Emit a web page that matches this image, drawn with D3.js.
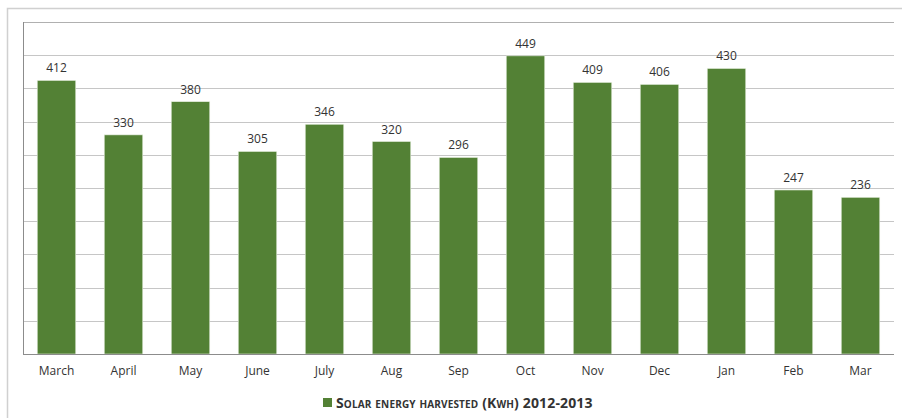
<!DOCTYPE html>
<html><head><meta charset="utf-8">
<script src="https://cdn.jsdelivr.net/npm/d3@7"></script>
<style>body{margin:0;background:#fff}svg{display:block}</style>
</head><body>
<svg id="c" width="902" height="418"></svg>
<script>
const categories = ["March","April","May","June","July","Aug","Sep","Oct","Nov","Dec","Jan","Feb","Mar"];
const values = [412,330,380,305,346,320,296,449,409,406,430,247,236];
const yTicks = [0,50,100,150,200,250,300,350,400,450,500];
const seriesName = "Solar energy harvested (Kwh) 2012-2013";

const svg = d3.select("#c");
const m = {left:23, right:8, top:22, bottom:64};
const W = 902, H = 418;
const font = "'Open Sans', 'Liberation Sans', sans-serif";

// outer frame
svg.append("rect").attr("x",7.5).attr("y",8.5).attr("width",W).attr("height",H)
  .attr("fill","none").attr("stroke","#d0d0d0").attr("stroke-width",1.5);

const x = d3.scaleBand().domain(categories).range([m.left, W-m.right]).paddingInner(0.425).paddingOuter(0.2125);
const y = d3.scaleLinear().domain([0,500]).range([H-m.bottom, m.top]);

// gridlines
svg.append("g").selectAll("line").data(yTicks.slice(1)).join("line")
  .attr("x1",m.left).attr("x2",W-m.right)
  .attr("y1",d=>Math.round(y(d))+0.5).attr("y2",d=>Math.round(y(d))+0.5)
  .attr("stroke",d=>d===500?"#b0b0b0":"#c6c6c6").attr("stroke-width",1);

// bars
svg.append("g").selectAll("rect").data(values).join("rect")
  .attr("x",(d,i)=>x(categories[i]))
  .attr("width",x.bandwidth())
  .attr("y",d=>y(d))
  .attr("height",d=>y(0)-y(d))
  .attr("fill","#538135")
  .attr("stroke","#e6efe0").attr("stroke-width",0.6);

// value labels
svg.append("g").selectAll("text").data(values).join("text")
  .attr("x",(d,i)=>x(categories[i])+x.bandwidth()/2)
  .attr("y",d=>y(d)-8)
  .attr("text-anchor","middle")
  .attr("font-family",font).attr("font-size",12).attr("fill","#333")
  .text(d=>d);

// axes lines
svg.append("line").attr("x1",m.left+0.5).attr("x2",m.left+0.5).attr("y1",m.top).attr("y2",y(0))
  .attr("stroke","#8c8c8c");
const xAxis = svg.append("g").attr("transform",`translate(0,${Math.round(y(0))+0.5})`)
  .call(d3.axisBottom(x).tickSize(0).tickPadding(12));
xAxis.select(".domain").attr("stroke","#8c8c8c").attr("d",`M${m.left},0H${W-m.right}`);
xAxis.selectAll("text").attr("font-family",font).attr("font-size",12).attr("fill","#333");

// legend
const lg = svg.append("g");
lg.append("rect").attr("x",323).attr("y",398).attr("width",9).attr("height",9).attr("fill","#538135");
lg.append("text").attr("x",336).attr("y",407.5)
  .attr("font-family",font).attr("font-size",14).attr("font-weight","bold")
  .attr("font-variant","small-caps").attr("fill","#333").attr("letter-spacing",0.15)
  .text(seriesName);
</script>
</body></html>
